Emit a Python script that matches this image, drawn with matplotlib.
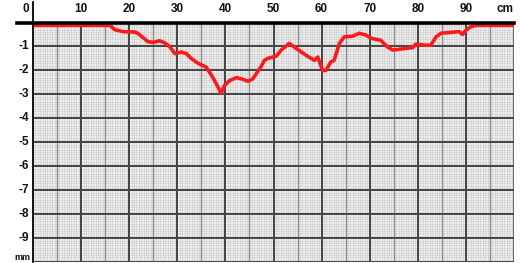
import matplotlib
matplotlib.use("Agg")
import matplotlib.pyplot as plt
import numpy as np

# profile trace: position [cm] vs depth [mm]
pos_cm = [0, 16, 17, 18.7, 21.2, 21.8, 23.9, 25, 26.3, 27.4, 28.4, 29.5, 30.8, 31.9,
          32.9, 34.3, 36, 37.1, 38.1, 39.1, 39.8, 40.9, 42.3, 43.3, 44.7, 45.7, 46.7,
          47.4, 48.1, 48.8, 50.6, 51.6, 53.3, 54.7, 56.8, 58.5, 59.2, 60.2, 60.9, 61.9,
          62.6, 63.7, 64.7, 66.5, 67.8, 69.2, 70.3, 72.3, 73.7, 74.8, 77.5, 78.9, 79.6,
          81.7, 82.7, 83.8, 84.8, 86.9, 88.6, 89.3, 90, 91, 92, 100]
depth_mm = [-0.12, -0.12, -0.3, -0.38, -0.4, -0.45, -0.8, -0.83, -0.76, -0.85, -1.0, -1.3,
            -1.23, -1.3, -1.5, -1.7, -1.86, -2.2, -2.55, -2.95, -2.63, -2.42, -2.3, -2.35,
            -2.45, -2.35, -2.05, -1.85, -1.58, -1.5, -1.4, -1.15, -0.87, -1.08, -1.37,
            -1.58, -1.44, -2.0, -2.0, -1.65, -1.58, -0.87, -0.6, -0.57, -0.45, -0.52,
            -0.66, -0.74, -1.02, -1.15, -1.08, -1.05, -0.9, -0.95, -0.95, -0.6, -0.45,
            -0.41, -0.38, -0.5, -0.32, -0.18, -0.12, -0.12]
x_ticks = [10, 20, 30, 40, 50, 60, 70, 80, 90]
y_ticks = [-1, -2, -3, -4, -5, -6, -7, -8, -9]

fig = plt.figure(figsize=(5.2, 2.63), dpi=100, facecolor="white")
ax = fig.add_axes([33 / 520, 0.003, 481 / 520, 1 - 0.003 - 22.5 / 263])
ax.set_xlim(0, 100)
ax.set_ylim(-10, 0)
ax.set_facecolor("#f0f0f0")

# graph paper grid
for xv in np.arange(0.5, 100, 0.5):
    ax.axvline(xv, color="#cacaca", lw=0.45, zorder=1)
for yv in np.arange(-9.9, 0, 0.1):
    ax.axhline(yv, color="#d0d0d0", lw=0.45, zorder=1)
for xv in np.arange(5, 100, 10):
    ax.axvline(xv, color="#8a8a8a", lw=1.0, zorder=2)
for xv in np.arange(10, 100, 10):
    ax.axvline(xv, color="#444444", lw=1.4, zorder=3)
ax.axvline(100, color="#555555", lw=1.2, zorder=3)
for yv in y_ticks + [-10]:
    ax.axhline(yv, color="#444444", lw=1.4, zorder=3)

ax.plot(pos_cm, depth_mm, color="#ff1a1a", lw=2.6, solid_capstyle="round",
        solid_joinstyle="round", zorder=5)

for sp in ax.spines.values():
    sp.set_visible(False)
ax.set_xticks([])
ax.set_yticks([])

# axes lines: bold top line extends left past the y axis
ax.plot([-3.4, 100], [0, 0], color="black", lw=2.6, clip_on=False, zorder=6)
ax.plot([0, 0], [-10, 0.85], color="black", lw=1.3, clip_on=False, zorder=6)

lab = dict(fontsize=8.5, fontweight="bold", family="Liberation Sans", color="#111111")
for xt in x_ticks:
    ax.text(xt, 0.3, str(xt), ha="center", va="bottom", **lab)
ax.text(-0.8, 0.3, "0", ha="right", va="bottom", **lab)
ax.text(98.2, 0.3, "cm", ha="center", va="bottom", **lab)
for yt in y_ticks:
    ax.text(-0.9, yt, str(yt), ha="right", va="center", **lab)
ax.text(-0.5, -9.8, "mm", ha="right", va="center", fontsize=6.5,
        fontweight="bold", family="Liberation Sans", color="#111111")

fig.savefig("out.png", dpi=100, facecolor="white")
